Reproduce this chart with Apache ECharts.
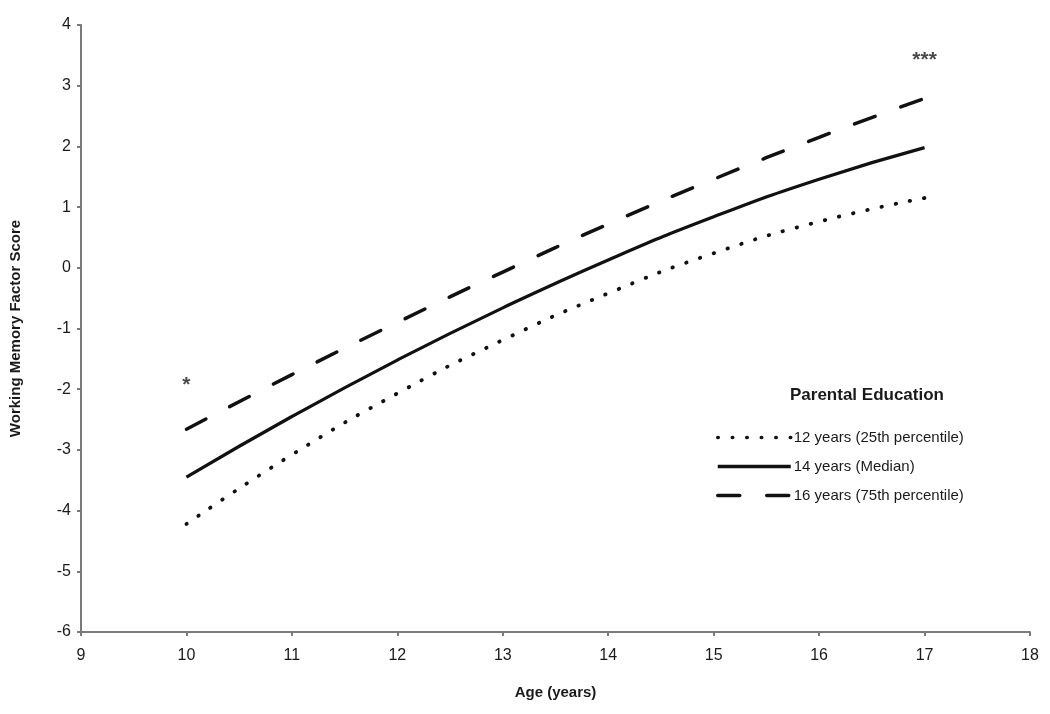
<!DOCTYPE html>
<html>
<head>
<meta charset="utf-8">
<script src="https://cdn.jsdelivr.net/npm/echarts@6/dist/echarts.min.js"></script>
<style>html,body{margin:0;padding:0;background:#fff}#c{width:1050px;height:714px}</style>
</head>
<body>
<div id="c"></div>
<script>
const ages = [10, 11, 12, 13, 14, 15, 16, 17];
const edu12 = [-4.22, -3.08, -2.07, -1.19, -0.42, 0.24, 0.76, 1.15];
const edu14 = [-3.45, -2.45, -1.52, -0.66, 0.13, 0.84, 1.46, 1.98];
const edu16 = [-2.66, -1.76, -0.90, -0.07, 0.72, 1.46, 2.15, 2.79];
const seriesNames = ['12 years (25th percentile)', '14 years (Median)', '16 years (75th percentile)'];
const annotations = [{x: 10, y: -1.93, text: '*'}, {x: 17, y: 3.42, text: '***'}];
const xTicks = {min: 9, max: 18, interval: 1};
const yTicks = {min: -6, max: 4, interval: 1};

const font = 'Liberation Sans, Arial, sans-serif';
const pair = (ys) => ages.map((a, i) => [a, ys[i]]);

const chart = echarts.init(document.getElementById('c'));
chart.setOption({
  animation: false,
  backgroundColor: '#fff',
  grid: {left: 77, right: 20, top: 25, bottom: 82},
  title: {
    text: 'Parental Education', left: 785, top: 382,
    textStyle: {fontFamily: font, fontSize: 17, fontWeight: 'bold', color: '#1a1a1a'}
  },
  legend: {
    orient: 'vertical', left: 711, top: 425, itemWidth: 73, itemHeight: 14, itemGap: 14,
    data: seriesNames,
    itemStyle: {opacity: 0},
    lineStyle: {width: 3.5},
    textStyle: {fontFamily: font, fontSize: 15, color: '#1a1a1a', padding: [0, 0, 0, -2]}
  },
  xAxis: {
    type: 'value', min: xTicks.min, max: xTicks.max, interval: xTicks.interval,
    name: 'Age (years)', nameLocation: 'middle', nameGap: 53,
    nameTextStyle: {fontFamily: font, fontSize: 15, fontWeight: 'bold', color: '#1a1a1a'},
    axisLine: {onZero: false, lineStyle: {color: '#7a7a7a', width: 2}},
    axisTick: {show: true, length: 4, lineStyle: {color: '#7a7a7a', width: 2}},
    axisLabel: {fontFamily: font, fontSize: 16, color: '#1a1a1a', margin: 16},
    splitLine: {show: false}
  },
  yAxis: {
    type: 'value', min: yTicks.min, max: yTicks.max, interval: yTicks.interval,
    name: 'Working Memory Factor Score', nameLocation: 'middle', nameGap: 58, nameRotate: 90,
    nameTextStyle: {fontFamily: font, fontSize: 15, fontWeight: 'bold', color: '#1a1a1a'},
    axisLine: {show: true, onZero: false, lineStyle: {color: '#7a7a7a', width: 2}},
    axisTick: {show: true, length: 4, lineStyle: {color: '#7a7a7a', width: 2}},
    axisLabel: {fontFamily: font, fontSize: 16, color: '#1a1a1a', margin: 10},
    splitLine: {show: false}
  },
  series: [
    {
      name: seriesNames[0], type: 'line', smooth: true, symbol: 'none', data: pair(edu12),
      itemStyle: {color: '#111'},
      lineStyle: {color: '#111', width: 3.8, type: [0.5, 14], cap: 'round'}
    },
    {
      name: seriesNames[1], type: 'line', smooth: true, symbol: 'none', data: pair(edu14),
      itemStyle: {color: '#111'},
      lineStyle: {color: '#111', width: 3.2, type: 'solid'}
    },
    {
      name: seriesNames[2], type: 'line', smooth: true, symbol: 'none', data: pair(edu16),
      itemStyle: {color: '#111'},
      lineStyle: {color: '#111', width: 3.5, type: [22, 27], cap: 'round'}
    },
    {
      type: 'scatter', symbolSize: 0, silent: true, data: annotations.map(a => [a.x, a.y]),
      label: {
        show: true, position: 'inside',
        formatter: (p) => annotations[p.dataIndex].text,
        fontFamily: font, fontSize: 21, fontWeight: 'bold', color: '#1a1a1a'
      }
    }
  ]
});
</script>
</body>
</html>
